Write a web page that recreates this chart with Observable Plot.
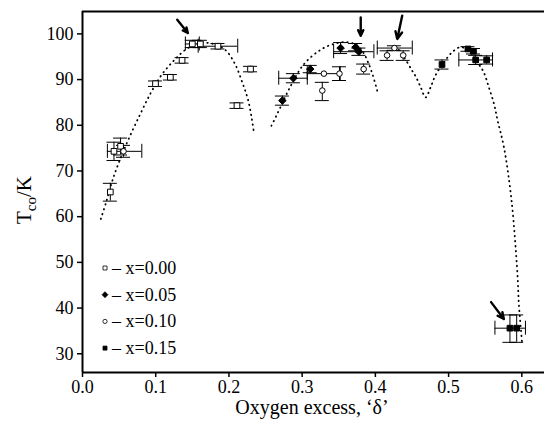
<!DOCTYPE html>
<html><head><meta charset="utf-8">
<script src="https://cdn.jsdelivr.net/npm/d3@7"></script>
<script src="https://cdn.jsdelivr.net/npm/@observablehq/plot@0.6"></script>
<style>
body{margin:0;background:#fff;}
#chart svg, #chart svg text{font-family:"Liberation Serif","Times New Roman","DejaVu Serif",serif !important;}
</style></head><body><div id="chart"></div>
<script>
// ---- data ----
const xTicks = [0, 0.1, 0.2, 0.3, 0.4, 0.5, 0.6];
const yTicks = [30, 40, 50, 60, 70, 80, 90, 100];
const seriesNames = ["x=0.00", "x=0.05", "x=0.10", "x=0.15"];
// [δ, T, T low, T high, δ low, δ high]  (null = no error bar)
const s000 = [
  [0.038, 65.4, 63.4, 67.3, null, null],
  [0.043, 74.3, 72.3, 76.3, null, null],
  [0.052, 75.4, 73.5, 77.2, null, null],
  [0.0997, 89.1, 88.5, 89.7, null, null],
  [0.120, 90.5, 89.9, 91.1, null, null],
  [0.136, 94.2, 93.6, 94.8, null, null],
  [0.150, 97.8, 97.0, 98.6, 0.1405, 0.1595],
  [0.161, 97.8, 97.0, 98.6, null, null],
  [0.185, 97.3, 96.7, 97.9, 0.158, 0.212],
  [0.211, 84.3, 83.7, 84.9, null, null],
  [0.2295, 92.3, 91.7, 92.9, null, null]
];
const s005 = [
  [0.273, 85.4, 84.4, 86.4, null, null],
  [0.288, 90.3, 89.3, 91.3, 0.268, 0.307],
  [0.311, 92.3, 91.5, 93.1, null, null],
  [0.3525, 96.9, 95.7, 98.1, null, null],
  [0.373, 97.1, 96.3, 97.9, null, null],
  [0.3775, 96.1, 95.3, 96.9, 0.343, 0.398]
];
const s010 = [
  [0.056, 74.3, 73.0, 75.6, 0.034, 0.081],
  [0.3297, 91.3, null, null, 0.307, 0.352],
  [0.351, 91.3, 89.8, 92.8, null, null],
  [0.3275, 87.6, 85.4, 89.4, null, null],
  [0.384, 92.3, 91.2, 93.4, null, null],
  [0.416, 95.3, 94.2, 96.3, null, null],
  [0.438, 95.3, 94.2, 96.3, null, null],
  [0.426, 96.9, 96.4, 97.4, 0.4026, 0.4504]
];
const s015 = [
  [0.491, 93.3, 92.3, 94.3, null, null],
  [0.5264, 96.7, 96.2, 97.2, null, null],
  [0.534, 96.2, 95.6, 96.8, null, null],
  [0.537, 94.3, 93.3, 95.3, 0.514, 0.560],
  [0.552, 94.3, 93.4, 95.2, null, null],
  [0.5838, 35.6, 32.5, 38.5, null, null],
  [0.593, 35.6, 32.5, 38.5, 0.5633, 0.605]
];
// dotted guide curves [δ, T]
const curve1 = [[0.025,59.5],[0.032,63],[0.040,67.5],[0.050,72],[0.063,77],[0.079,82.5],[0.093,87],[0.107,90.8],[0.125,94.2],[0.143,96.8],[0.161,98.0],[0.179,97.8],[0.195,96.5],[0.208,93.5],[0.218,89.5],[0.227,85],[0.234,78.5]];
const curve2 = [[0.258,79.9],[0.266,82.5],[0.284,88.5],[0.302,93.3],[0.325,96.5],[0.343,97.8],[0.360,98.2],[0.375,97.5],[0.384,95.8],[0.390,93.8],[0.396,91.2],[0.403,87.3]];
const curve3 = [[0.432,96.5],[0.4434,93.8],[0.450,92],[0.455,90.7],[0.462,88.3],[0.4686,86.1],[0.4754,88.3],[0.482,90.9],[0.4936,93.8],[0.505,96],[0.516,97.1],[0.528,96.2],[0.541,93.4],[0.548,91.6],[0.555,88.3],[0.562,84.7],[0.567,81.0],[0.5756,75.2],[0.586,63.5],[0.594,47.6],[0.596,40.9],[0.6007,31.8]];
// arrows [δ1, T1, δ2, T2]
const arrows = [[0.1294,103.1,0.1439,100.2],[0.380,103.6,0.380,99.6],[0.4367,104.0,0.4299,98.9],[0.558,41.3,0.5755,37.6]];

// ---- build rows ----
const all = [s000, s005, s010, s015];
const rows = all.flatMap((s, i) => s.map(([d, t, tl, th, dl, dh]) => ({name: seriesNames[i], i, d, t, tl, th, dl, dh})));
const vbar = rows.filter(r => r.tl != null);
const hbar = rows.filter(r => r.dl != null);
const curves = [curve1, curve2, curve3].flatMap((c, k) => c.map(([d, t]) => ({k, d, t})));

const xDomain = [0, 0.631], yDomain = [25.9, 104.9];
const cap = 7;
const FONT = "'Liberation Serif', 'Times New Roman', 'DejaVu Serif', serif";

const plot = Plot.plot({
  width: 546, height: 427,
  marginLeft: 82, marginRight: 2, marginTop: 11, marginBottom: 55,
  x: {domain: xDomain},
  y: {domain: yDomain},
  style: {fontFamily: FONT, color: "black", background: "white"},
  marks: [
    Plot.line(curves, {x: "d", y: "t", z: "k", curve: "catmull-rom", stroke: "black", strokeWidth: 1.8, strokeDasharray: "0.5,4.5", strokeLinecap: "round"}),
    Plot.ruleX(vbar, {x: "d", y1: "tl", y2: "th", stroke: "black", strokeWidth: 1}),
    Plot.ruleY(vbar, {y: "tl", x1: "d", x2: "d", insetLeft: -cap, insetRight: -cap, stroke: "black", strokeWidth: 1}),
    Plot.ruleY(vbar, {y: "th", x1: "d", x2: "d", insetLeft: -cap, insetRight: -cap, stroke: "black", strokeWidth: 1}),
    Plot.ruleY(hbar, {y: "t", x1: "dl", x2: "dh", stroke: "black", strokeWidth: 1}),
    Plot.ruleX(hbar, {x: "dl", y1: "t", y2: "t", insetTop: -cap, insetBottom: -cap, stroke: "black", strokeWidth: 1}),
    Plot.ruleX(hbar, {x: "dh", y1: "t", y2: "t", insetTop: -cap, insetBottom: -cap, stroke: "black", strokeWidth: 1}),
    Plot.dot(rows.filter(r => r.i === 0), {x: "d", y: "t", symbol: "square", r: 3.2, fill: "white", stroke: "black", strokeWidth: 1}),
    Plot.dot(rows.filter(r => r.i === 1), {x: "d", y: "t", symbol: "diamond2", r: 3.4, fill: "black", stroke: "black", strokeWidth: 1}),
    Plot.dot(rows.filter(r => r.i === 2), {x: "d", y: "t", symbol: "circle", r: 2.8, fill: "white", stroke: "black", strokeWidth: 1}),
    Plot.dot(rows.filter(r => r.i === 3), {x: "d", y: "t", symbol: "square", r: 3.2, fill: "black", stroke: "black", strokeWidth: 1}),
    Plot.arrow(arrows, {x1: d => d[0], y1: d => d[1], x2: d => d[2], y2: d => d[3], stroke: "black", strokeWidth: 2.4, headLength: 9, headAngle: 50}),
    Plot.axisX({ticks: xTicks, tickFormat: d3.format(".1f"), tickSize: 5, tickPadding: 3, fontSize: 18, label: null, strokeWidth: 1.5}),
    Plot.axisY({ticks: yTicks, tickSize: 5, tickPadding: 4, fontSize: 18, label: null, strokeWidth: 1.5}),
    Plot.ruleX([xDomain[0]], {stroke: "black", strokeWidth: 2}),
    Plot.ruleY([yDomain[0]], {stroke: "black", strokeWidth: 2}),
    Plot.ruleY([yDomain[1]], {stroke: "black", strokeWidth: 2})
  ]
});
document.getElementById("chart").appendChild(plot);

// ---- titles and legend ----
const svg = d3.select(plot);
svg.append("text").attr("x", 312).attr("y", 414).attr("text-anchor", "middle")
  .attr("font-size", 20).attr("fill", "black").text("Oxygen excess, \u2018\u03B4\u2019");
const yl = svg.append("text").attr("transform", "translate(31,200) rotate(-90)")
  .attr("text-anchor", "middle").attr("font-size", 21).attr("fill", "black");
yl.append("tspan").text("T");
yl.append("tspan").attr("font-size", 15).attr("dy", 5).text("co");
yl.append("tspan").attr("dy", -5).text("/K");

const legendSym = [
  {sym: d3.symbolSquare, fill: "white", size: 16},
  {sym: d3.symbolDiamond2, fill: "black", size: 22},
  {sym: d3.symbolCircle, fill: "white", size: 14},
  {sym: d3.symbolSquare, fill: "black", size: 16}
];
const lg = svg.append("g");
seriesNames.forEach((name, i) => {
  const cy = 268 + i * 26.7;
  lg.append("path").attr("d", d3.symbol(legendSym[i].sym, legendSym[i].size)())
    .attr("transform", `translate(105,${cy})`).attr("fill", legendSym[i].fill).attr("stroke", "black").attr("stroke-width", 0.8);
  lg.append("text").attr("x", 112).attr("y", cy + 6).attr("text-anchor", "start").attr("font-size", 18).attr("fill", "black").text("\u2013 " + name);
});
svg.selectAll("text").attr("font-family", FONT).style("font-family", FONT);
</script></body></html>
